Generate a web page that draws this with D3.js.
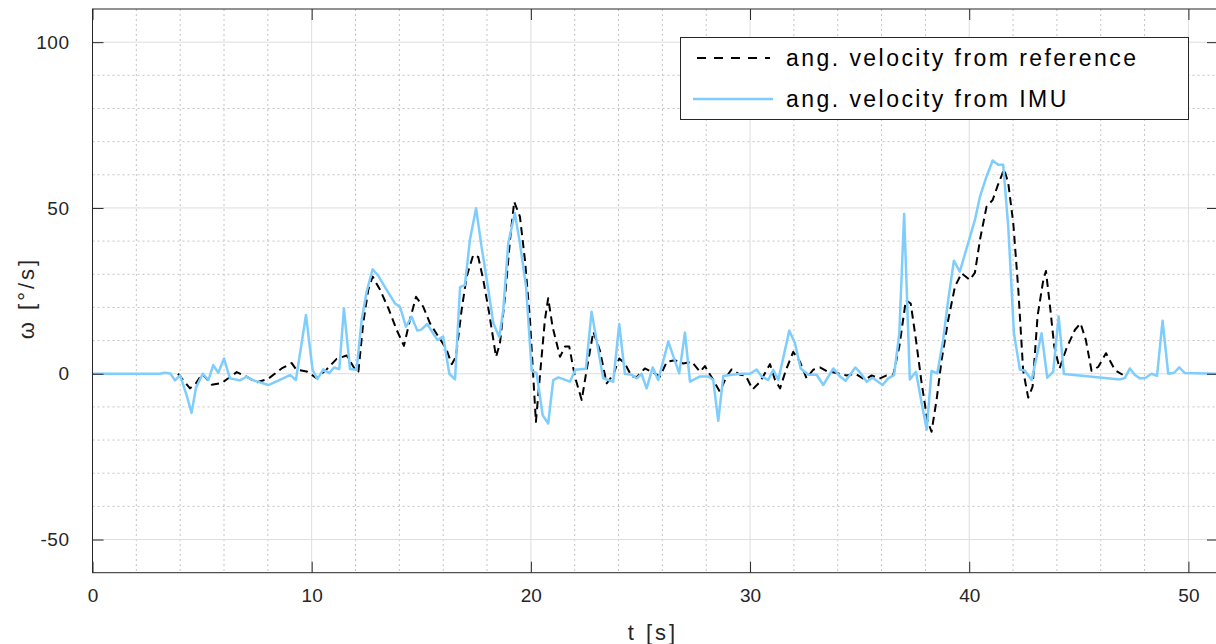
<!DOCTYPE html>
<html>
<head>
<meta charset="utf-8">
<script src="https://cdn.jsdelivr.net/npm/d3@7/dist/d3.min.js"></script>
<style>
  html, body { margin: 0; padding: 0; background: #fff; }
  svg { display: block; }
  text { font-family: "Liberation Sans", Arial, sans-serif; }
</style>
</head>
<body>
<svg id="chart" width="1216" height="644"></svg>
<script>
// ---- data ----
const imuT = [0,3.08,3.3,3.55,3.76,4.0,4.3,4.52,4.72,5.03,5.29,5.51,5.74,6.0,6.27,6.72,7.03,7.3,8.02,8.5,9.01,9.28,9.74,10.04,10.26,10.53,10.8,11.02,11.26,11.47,11.75,12.05,12.28,12.51,12.78,13.04,13.42,13.8,14.03,14.3,14.56,14.82,15.0,15.27,15.73,16.0,16.28,16.54,16.77,16.99,17.22,17.5,17.76,18.06,18.29,18.56,18.74,18.97,19.27,19.5,19.78,20.04,20.26,20.54,20.79,21.02,21.26,21.78,22.03,22.51,22.77,23.3,23.76,24.03,24.29,24.6,24.83,25.05,25.28,25.56,25.81,26.27,26.77,27.03,27.26,27.72,28.1,28.32,28.55,28.78,29.16,29.62,30.0,30.3,30.53,30.83,31.06,31.29,31.79,32.05,32.31,32.66,33.04,33.34,33.8,34.1,34.36,34.8,35.05,35.32,35.59,36.05,36.3,36.57,36.81,37.03,37.29,37.57,37.83,38.06,38.28,38.54,38.81,39.04,39.3,39.57,39.95,40.26,40.49,40.79,41.07,41.32,41.55,41.78,42.04,42.31,42.54,42.85,43.3,43.56,43.83,44.08,44.32,46.88,47.1,47.33,47.55,47.79,48.05,48.32,48.57,48.82,49.08,49.35,49.58,49.84,51.35];
const imuV = [0,0,0.3,0.1,-2,-0.5,-6.6,-11.8,-4.2,0,-1.9,2.6,0.3,4.6,-1.4,-2.0,-0.9,-1.9,-3.4,-2.0,-0.4,-1.9,17.7,1.2,-1.6,1.3,0.2,1.9,1.4,19.7,1.4,1.2,16.2,24.8,31.5,29.5,25.3,21.2,20.2,14.2,17.2,13.0,13.3,15.0,10.2,11.2,0,-1.7,26.1,26.7,40.4,49.9,37.9,25.3,15.2,11.0,19.2,39.4,48.4,39.4,26.3,0.9,0.2,-12.5,-15,-1.9,-1.1,-2.4,1.2,1.5,18.7,-1.4,-2.4,15.0,0,-0.3,-1.4,0,-4.4,1.9,-1.9,9.7,0.1,12.4,-2.4,-0.8,-0.8,-1.9,-14.2,-0.7,-0.3,0,0,1.3,-0.8,-1.9,1.2,-1.9,13.0,9.2,1.6,-0.3,-0.3,-3.4,1.6,-0.8,-2.1,1.9,0.2,-2.4,-1.2,-3.4,-1.4,-0.4,12.2,48.2,-1.7,0.6,-8.9,-16.8,0.9,0.1,10.2,22.2,34.1,30.8,39.4,46.4,53.4,59.5,64.3,63.0,63.0,44.4,12.2,1.3,0.9,-1.9,12.2,-1.2,0.6,17.3,-0.1,-1.7,-1.3,1.6,-0.3,-1.4,-1.2,0,-0.6,16.0,0,0.3,1.9,0.2,0];

const refT = [3.9,4.1,4.45,4.72,5.0,5.44,5.9,6.58,7.03,7.49,8.0,8.63,9.09,9.3,9.77,10.22,10.68,11.14,11.6,12.05,12.13,12.35,12.58,12.78,13.12,13.5,13.88,14.21,14.48,14.76,15.09,15.4,15.78,16.13,16.39,16.58,16.84,17.07,17.37,17.6,17.83,18.1,18.41,18.59,18.82,19.05,19.24,19.5,19.73,19.96,20.23,20.45,20.64,20.79,20.99,21.33,21.56,21.75,22.01,22.32,22.57,22.85,23.15,23.46,23.76,24.03,24.29,24.6,24.83,25.2,25.51,25.89,26.2,26.57,26.95,27.34,27.72,27.94,28.32,28.62,28.93,29.16,29.54,29.8,30.12,30.46,30.91,31.14,31.37,31.64,31.97,32.28,32.58,32.88,33.19,33.5,33.95,34.41,34.8,35.24,35.55,35.9,36.23,36.53,36.81,37.11,37.33,37.57,37.83,38.09,38.28,38.51,38.74,39.04,39.35,39.65,40.03,40.26,40.49,40.79,41.07,41.28,41.59,41.78,42.01,42.24,42.46,42.69,42.89,43.12,43.38,43.5,43.68,43.88,44.12,44.44,44.82,45.08,45.32,45.58,45.89,46.24,46.65,47.0];
const refV = [0,-1.6,-4.4,-2.9,0,-3.3,-2.8,0.5,-0.9,-2.6,-1.6,1.6,3.2,1.2,0.7,-1.3,1.3,4.5,5.5,0.5,0.6,15.2,25.3,29.3,25.3,19.7,13.2,8.4,16.2,23.2,20.2,15.2,11.2,7.7,2.9,5.1,19.2,29.3,35.8,35.2,28.3,18.2,5.1,9.2,23.2,40.4,51.9,47.4,34.3,16.2,-14.5,2.1,16.2,22.8,14.2,5.1,8.2,8.2,-0.9,-7.9,2.1,12.7,7.0,-2.9,-0.3,4.6,3.1,-0.8,-1,1.6,0.6,-0.8,3.6,4.1,3.1,3.6,0.6,2.3,-1.9,-5.4,-0.8,1.3,-0.3,-0.6,-4.7,-2.4,2.9,-1.9,-4.4,1.2,6.6,3.6,-1.4,1.2,1.9,0.8,0.2,-0.5,0,-1.8,-0.5,-1.5,-0.5,-0.5,8.2,22.2,21.2,10.2,-2.9,-14,-17.5,-7.9,4.1,16.2,26.3,30.3,28.3,30.5,40.4,50.4,52.4,56.4,61.7,57.5,45.4,25.3,1.0,-7.2,-3.9,17.5,28.3,31.0,20.7,8.2,1.6,7.7,13.2,15.2,10.2,0.9,2.1,6.2,1.1,-0.3];

const xTicks = [0,10,20,30,40,50];
const yTicks = [-50,0,50,100];
const xMinor = [2,4,6,8,12,14,16,18,22,24,26,28,32,34,36,38,42,44,46,48];
const yMinor = [-40,-30,-20,-10,10,20,30,40,60,70,80,90];
const seriesNames = ["ang. velocity from reference", "ang. velocity from IMU"];
const xLabel = "t [s]";
const yLabel = "\u03c9 [\u00b0/s]";

// ---- layout ----
const L = 92.5, R = 1218, T = 9, B = 572.7;
const svg = d3.select("#chart");
const x = d3.scaleLinear().domain([0, 51.35]).range([L, R]);
const y = d3.scaleLinear().domain([-60, 110]).range([B, T]);

const axisColor = "#262626";
const fmt = d => String(d);

// minor grid
svg.append("g").selectAll("line").data(xMinor).join("line")
  .attr("x1", d => x(d)).attr("x2", d => x(d)).attr("y1", T).attr("y2", B)
  .attr("stroke", "#c4c4c4").attr("stroke-width", 1).attr("stroke-dasharray", "2,3");
svg.append("g").selectAll("line").data(yMinor).join("line")
  .attr("y1", d => y(d)).attr("y2", d => y(d)).attr("x1", L).attr("x2", R)
  .attr("stroke", "#c4c4c4").attr("stroke-width", 1).attr("stroke-dasharray", "2,3");
// major grid
svg.append("g").selectAll("line").data(xTicks).join("line")
  .attr("x1", d => x(d)).attr("x2", d => x(d)).attr("y1", T).attr("y2", B)
  .attr("stroke", "#dedede").attr("stroke-width", 1);
svg.append("g").selectAll("line").data(yTicks).join("line")
  .attr("y1", d => y(d)).attr("y2", d => y(d)).attr("x1", L).attr("x2", R)
  .attr("stroke", "#dedede").attr("stroke-width", 1);

// series
svg.append("clipPath").attr("id", "clip").append("rect")
  .attr("x", L).attr("y", T).attr("width", R - L).attr("height", B - T);
const line = d3.line().x(d => x(d[0])).y(d => y(d[1]));
const refData = refT.map((t, i) => [t, refV[i]]);
const imuData = imuT.map((t, i) => [t, imuV[i]]);
const gData = svg.append("g").attr("clip-path", "url(#clip)");
gData.append("path").datum(refData).attr("d", line)
  .attr("fill", "none").attr("stroke", "#000").attr("stroke-width", 2)
  .attr("stroke-dasharray", "8,5").attr("stroke-linejoin", "round");
gData.append("path").datum(imuData).attr("d", line)
  .attr("fill", "none").attr("stroke", "#7fcdfd").attr("stroke-width", 2.5)
  .attr("stroke-linejoin", "round");

// axes with inward ticks
const tickLen = 11;
const ax = svg.append("g");
ax.append("g").attr("transform", `translate(0,${B})`)
  .call(d3.axisBottom(x).tickValues(xTicks).tickFormat(fmt).tickSizeInner(-tickLen).tickSizeOuter(0).tickPadding(16))
  .call(g => { g.select(".domain").remove(); g.selectAll("line").attr("stroke", axisColor);
    g.selectAll("text").attr("font-size", 19).attr("fill", axisColor).attr("font-family", "Liberation Sans, Arial, sans-serif"); });
ax.append("g").attr("transform", `translate(0,${T})`)
  .call(d3.axisTop(x).tickValues(xTicks).tickSizeInner(-tickLen).tickSizeOuter(0).tickFormat(""))
  .call(g => { g.select(".domain").remove(); g.selectAll("line").attr("stroke", axisColor); });
ax.append("g").attr("transform", `translate(${L},0)`)
  .call(d3.axisLeft(y).tickValues(yTicks).tickFormat(fmt).tickSizeInner(-tickLen).tickSizeOuter(0).tickPadding(23))
  .call(g => { g.select(".domain").remove(); g.selectAll("line").attr("stroke", axisColor);
    g.selectAll("text").attr("font-size", 19).attr("fill", axisColor).attr("letter-spacing", 0.5).attr("font-family", "Liberation Sans, Arial, sans-serif"); });
ax.append("g").attr("transform", `translate(${R},0)`)
  .call(d3.axisRight(y).tickValues(yTicks).tickSizeInner(-tickLen).tickSizeOuter(0).tickFormat(""))
  .call(g => { g.select(".domain").remove(); g.selectAll("line").attr("stroke", axisColor); });

// frame
svg.append("rect").attr("x", L).attr("y", T).attr("width", R - L).attr("height", B - T)
  .attr("fill", "none").attr("stroke", axisColor).attr("stroke-width", 1);

// axis labels
svg.append("text").attr("x", 653).attr("y", 640).attr("text-anchor", "middle")
  .attr("font-size", 22).attr("letter-spacing", 3).attr("fill", axisColor).text(xLabel);
svg.append("text").attr("transform", "translate(34,298) rotate(-90)").attr("text-anchor", "middle")
  .attr("font-size", 22).attr("letter-spacing", 3).attr("fill", axisColor).text(yLabel);

// legend
const lg = svg.append("g");
lg.append("rect").attr("x", 680.5).attr("y", 37.5).attr("width", 508).attr("height", 82)
  .attr("fill", "#fff").attr("stroke", axisColor).attr("stroke-width", 1);
const rows = [58, 99];
lg.append("line").attr("x1", 697).attr("x2", 770).attr("y1", rows[0]).attr("y2", rows[0])
  .attr("stroke", "#000").attr("stroke-width", 2).attr("stroke-dasharray", "9,8");
lg.append("line").attr("x1", 693).attr("x2", 773).attr("y1", rows[1]).attr("y2", rows[1])
  .attr("stroke", "#7fcdfd").attr("stroke-width", 2.5);
lg.selectAll("text.lab").data(seriesNames).join("text").attr("class", "lab")
  .attr("x", 786).attr("y", (d, i) => rows[i]).attr("dy", "0.35em")
  .attr("font-size", 23).attr("letter-spacing", 2.45).attr("fill", "#000").text(d => d);
</script>
</body>
</html>
